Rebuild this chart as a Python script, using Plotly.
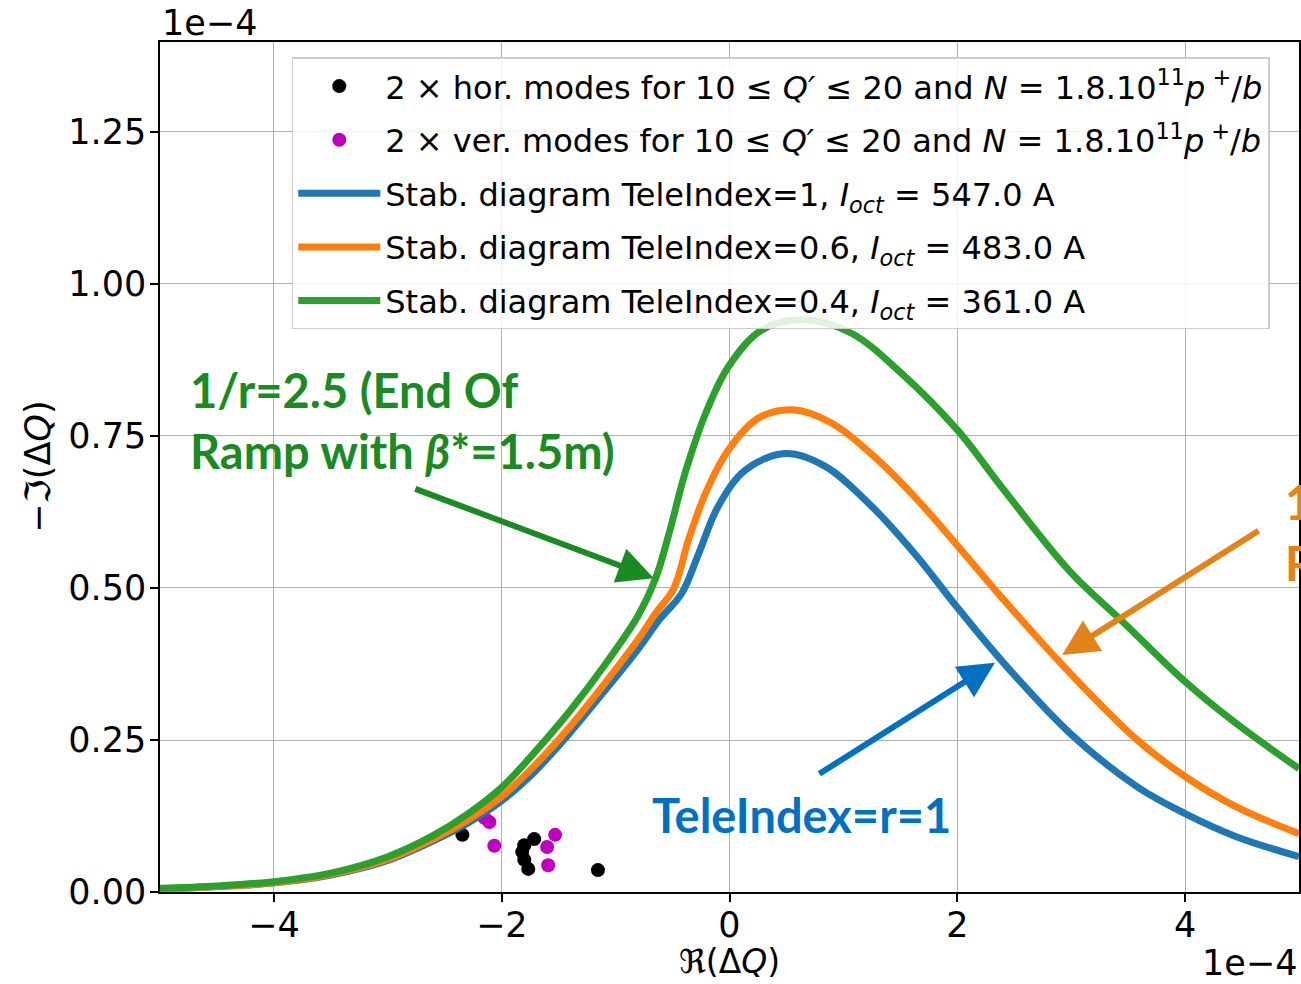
import plotly.graph_objects as go

# values in units of 1e-4
hor_x = [-2.345, -1.715, -1.802, -1.820, -1.802, -1.767, -1.155]
hor_y = [0.094, 0.087, 0.077, 0.066, 0.053, 0.038, 0.036]
ver_x = [-2.152, -2.108, -2.065, -1.531, -1.601, -1.592]
ver_y = [0.122, 0.115, 0.076, 0.094, 0.074, 0.044]

blue_x = [-5, -4.5, -4, -3.5, -3, -2.6, -2.3, -2.0, -1.7, -1.4, -1.1, -0.8, -0.62, -0.42,
          -0.27, -0.10, 0.14, 0.49, 0.84, 1.25, 1.65, 1.97, 2.41, 2.99, 3.58, 4.0, 4.45, 5.0]
blue_y = [0.005, 0.009, 0.015, 0.028, 0.052, 0.084, 0.113, 0.150, 0.200, 0.262, 0.330, 0.400,
          0.447, 0.491, 0.557, 0.634, 0.694, 0.721, 0.700, 0.634, 0.551, 0.475, 0.376, 0.261,
          0.173, 0.129, 0.091, 0.058]
orange_x = [-5, -4.5, -4, -3.5, -3, -2.6, -2.3, -2.0, -1.7, -1.4, -1.1, -0.8, -0.65, -0.49,
            -0.36, -0.21, -0.01, 0.25, 0.55, 0.90, 1.30, 1.65, 2.0, 2.41, 2.99, 3.58, 4.0, 4.45, 5.0]
orange_y = [0.005, 0.009, 0.015, 0.029, 0.054, 0.087, 0.118, 0.157, 0.210, 0.272, 0.342, 0.416,
            0.458, 0.499, 0.579, 0.656, 0.727, 0.779, 0.793, 0.771, 0.711, 0.645, 0.570, 0.480,
            0.360, 0.250, 0.190, 0.140, 0.096]
green_x = [-5, -4.5, -4, -3.5, -3, -2.6, -2.3, -2.0, -1.7, -1.4, -1.1, -0.8, -0.65, -0.53,
           -0.39, -0.21, -0.01, 0.28, 0.66, 1.07, 1.51, 2.0, 2.41, 2.99, 3.45, 4.0, 4.45, 5.0]
green_y = [0.006, 0.010, 0.017, 0.031, 0.058, 0.093, 0.128, 0.172, 0.232, 0.298, 0.372, 0.455,
           0.515, 0.590, 0.689, 0.787, 0.864, 0.924, 0.941, 0.919, 0.853, 0.760, 0.661, 0.527,
           0.445, 0.346, 0.277, 0.203]

x_ticks = [-4, -2, 0, 2, 4]
y_ticks = [0.0, 0.25, 0.5, 0.75, 1.0, 1.25]

lw = 7
fig = go.Figure()
fig.add_trace(go.Scatter(x=hor_x, y=hor_y, mode="markers", legendgroup="a",
                         marker=dict(color="black", size=14),
                         name="2 × hor. modes for 10 ≤ <i>Q′</i> ≤ 20 and <i>N</i> = 1.8.10<sup>11</sup><i>p</i><sup> +</sup>/<i>b</i>"))
fig.add_trace(go.Scatter(x=ver_x, y=ver_y, mode="markers", legendgroup="b",
                         marker=dict(color="#bf00bf", size=14),
                         name="2 × ver. modes for 10 ≤ <i>Q′</i> ≤ 20 and <i>N</i> = 1.8.10<sup>11</sup><i>p</i><sup> +</sup>/<i>b</i>"))
fig.add_trace(go.Scatter(x=blue_x, y=blue_y, mode="lines", legendgroup="c",
                         line=dict(color="#1f77b4", width=lw, shape="spline", smoothing=1.0),
                         name="Stab. diagram TeleIndex=1, <i>I<sub>oct</sub></i> = 547.0 A"))
fig.add_trace(go.Scatter(x=orange_x, y=orange_y, mode="lines", legendgroup="d",
                         line=dict(color="#ff7f0e", width=lw, shape="spline", smoothing=1.0),
                         name="Stab. diagram TeleIndex=0.6, <i>I<sub>oct</sub></i> = 483.0 A"))
fig.add_trace(go.Scatter(x=green_x, y=green_y, mode="lines", legendgroup="e",
                         line=dict(color="#2ca02c", width=lw, shape="spline", smoothing=1.0),
                         name="Stab. diagram TeleIndex=0.4, <i>I<sub>oct</sub></i> = 361.0 A"))

axis_common = dict(showline=True, linecolor="black", linewidth=1.6, mirror=True,
                   ticks="outside", ticklen=8, tickwidth=1.6, tickcolor="black",
                   showgrid=True, gridcolor="#b0b0b0", gridwidth=1.2, zeroline=False,
                   tickfont=dict(family="DejaVu Sans", size=35, color="black"))

fig.update_layout(
    width=1301, height=984,
    margin=dict(l=160, r=0, t=42, b=92),
    paper_bgcolor="white", plot_bgcolor="white",
    font=dict(family="DejaVu Sans", color="black"),
    xaxis=dict(range=[-5, 5], tickvals=x_ticks,
               ticktext=[("−" if v < 0 else "") + str(abs(v)) for v in x_ticks],
               ticklabelstandoff=-7, **axis_common),
    yaxis=dict(range=[0, 1.398], tickvals=y_ticks, ticktext=["%.2f" % v for v in y_ticks],
               ticklabelstandoff=-3, **axis_common),
    showlegend=True,
    legend=dict(x=0.1157, y=0.982, xanchor="left", yanchor="top",
                bgcolor="rgba(255,255,255,0.85)", bordercolor="#cccccc", borderwidth=1.5,
                font=dict(family="DejaVu Sans", size=32, color="black"),
                tracegroupgap=9, itemwidth=82),
)

green_t = "#1a8a22"
blue_t = "#0070c0"
orange_t = "#e3841a"
ann_font = "Lato"
ann_size = 47

anns = [
    dict(text="1e−4", xref="paper", yref="paper", x=0.0, y=1.0, xanchor="left", yanchor="bottom",
         yshift=-3, showarrow=False, font=dict(family="DejaVu Sans", size=35, color="black")),
    dict(text="1e−4", xref="paper", yref="paper", x=1.0, y=0, xanchor="right", yanchor="top",
         yshift=-49, showarrow=False, font=dict(family="DejaVu Sans", size=35, color="black")),
    dict(text="ℜ(Δ<i>Q</i>)", xref="paper", yref="paper", x=0.5, y=0, xanchor="center", yanchor="top",
         yshift=-48, showarrow=False, font=dict(family="DejaVu Sans", size=33, color="black")),
    dict(text="−ℑ(Δ<i>Q</i>)", xref="paper", yref="paper", x=0, y=0.5, xanchor="center", yanchor="middle",
         xshift=-122, textangle=-90, showarrow=False, font=dict(family="DejaVu Sans", size=35, color="black")),
    dict(text="<b>1/r=2.5 (End Of<br>Ramp with <i>β</i>*=1.5m)</b>", xref="x", yref="y",
         x=-4.75, y=0.875, xanchor="left", yanchor="top", align="left", showarrow=False,
         font=dict(family=ann_font, size=ann_size, color=green_t)),
    dict(text="<b>TeleIndex=r=1</b>", xref="x", yref="y", x=-0.7, y=0.127, xanchor="left", yanchor="middle",
         showarrow=False, font=dict(family=ann_font, size=ann_size, color=blue_t)),
    dict(text="<b>1/r=1.67<br>Ramp</b>", xref="paper", yref="y", x=1.0, y=0.69, xanchor="left", yanchor="top",
         xshift=-16, align="left", showarrow=False, font=dict(family=ann_font, size=ann_size, color=orange_t)),
    dict(text="", xref="x", yref="y", x=-0.665, y=0.516, ax=-240, ay=-90,
         showarrow=True, arrowhead=2, arrowsize=1.2, arrowwidth=6, arrowcolor=green_t),
    dict(text="", xref="x", yref="y", x=2.33, y=0.377, ax=-177, ay=112,
         showarrow=True, arrowhead=2, arrowsize=1.2, arrowwidth=6, arrowcolor=blue_t),
    dict(text="", xref="x", yref="y", x=2.92, y=0.390, ax=198, ay=-125,
         showarrow=True, arrowhead=2, arrowsize=1.2, arrowwidth=6, arrowcolor=orange_t),
]
fig.update_layout(annotations=anns)

fig.write_html("out.html")
